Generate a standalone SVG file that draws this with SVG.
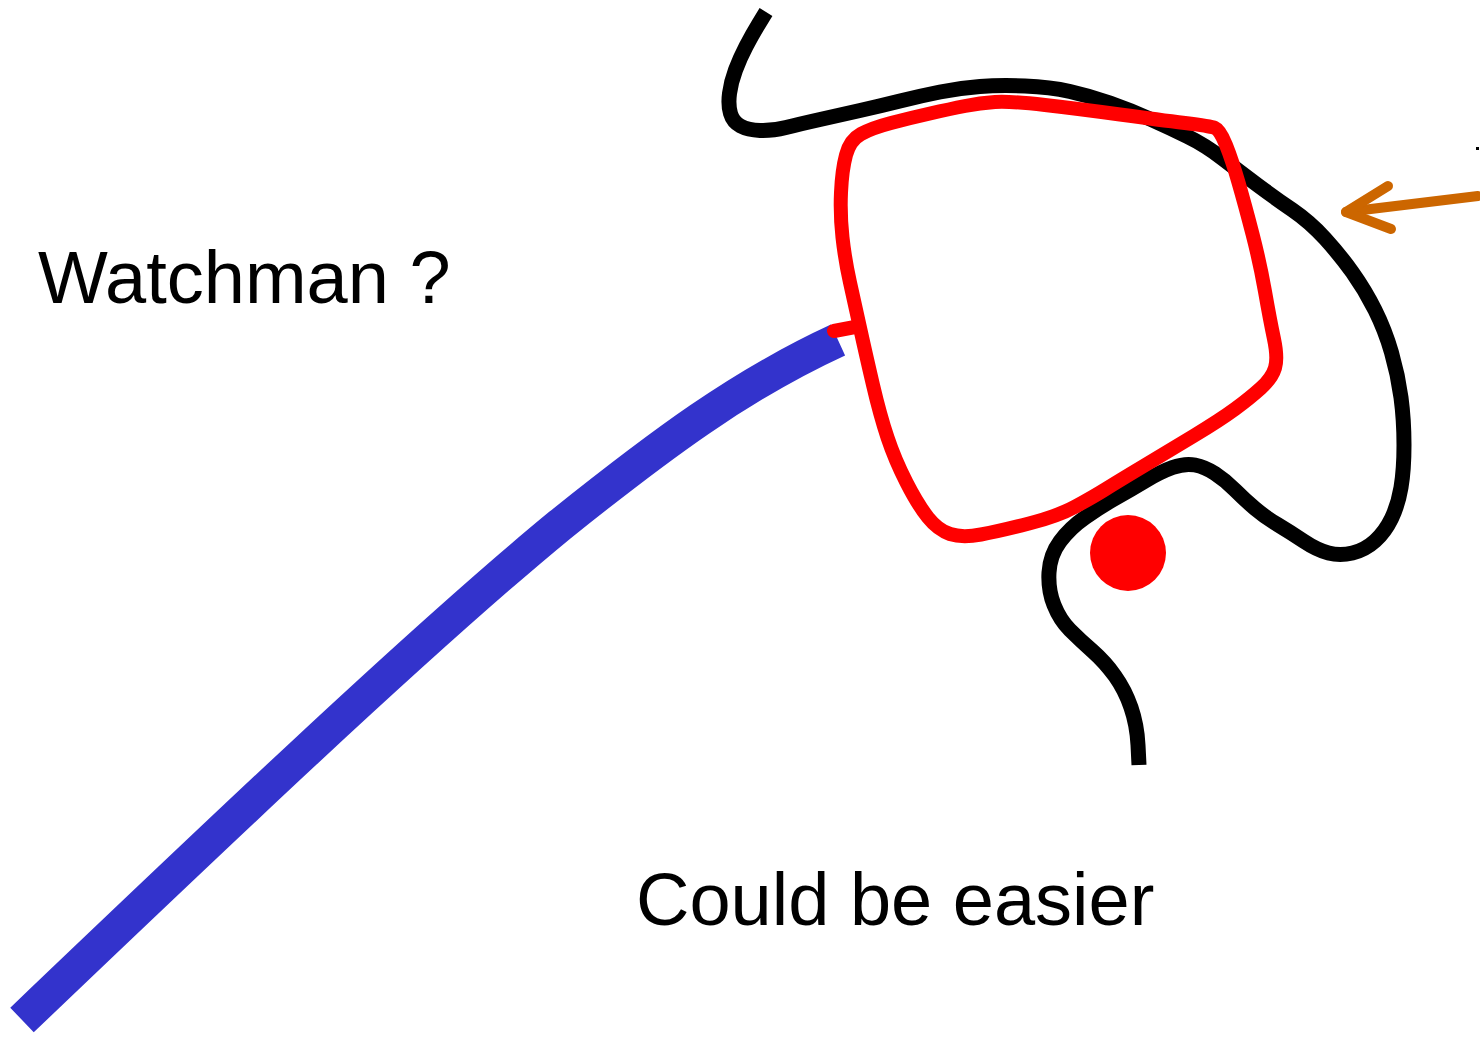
<svg xmlns="http://www.w3.org/2000/svg" width="1480" height="1038" viewBox="0 0 1480 1038">
<style>
.txt{font-family:"Liberation Sans",Arial,sans-serif;font-size:74px;fill:#000}
.blk{fill:none;stroke:#000;stroke-width:15;stroke-linejoin:round;stroke-linecap:butt}
.red{fill:none;stroke:#FF0000;stroke-width:14;stroke-linejoin:round;stroke-linecap:round}
.blue{fill:none;stroke:#3333CC;stroke-width:34;stroke-linecap:butt;stroke-linejoin:round}
.org{fill:none;stroke:#CC6600;stroke-width:10;stroke-linecap:round;stroke-linejoin:round}
</style>
<rect width="1480" height="1038" fill="#fff"/>
<g id="black-curve">
<path class="blk" d="M766,12 L759,23.5 Q752,35 746,46.5 Q740,58 735.5,70 Q731,82 729.5,93.5 Q728,105 730.5,113.5 Q733,122 740.5,126 Q748,130 760,130.5 Q772,131 786,127.5 Q800,124 820,119.5 Q840,115 860,110.5 Q880,106 900,101 Q920,96 940,92 Q960,88 980,86.5 Q1000,85 1025,86 Q1050,87 1070,91.5 Q1090,96 1110,103 Q1130,110 1150,119 Q1170,128 1187.5,136.5 Q1205,145 1222.5,158.5 Q1240,172 1257.5,185 Q1275,198 1292.5,210 Q1310,222 1325,238.5 Q1340,255 1352.5,272.5 Q1365,290 1375,310 Q1385,330 1391.5,352.5 Q1398,375 1401,397.5 Q1404,420 1404,445 Q1404,470 1401,487.5 Q1398,505 1391.5,518.5 Q1385,532 1375,541 Q1365,550 1352.5,553 Q1340,556 1328.5,553 Q1317,550 1303.5,541 Q1290,532 1277.5,524.5 Q1265,517 1255,508.5 Q1245,500 1235,490 Q1225,480 1215,473.5 Q1205,467 1195,465 Q1185,463 1172.5,467.5 Q1160,472 1145,481 Q1130,490 1115,498.5 Q1100,507 1085,517.5 Q1070,528 1060,541.5 Q1050,555 1049,572.5 Q1048,590 1054,605 Q1060,620 1070,630 Q1080,640 1092.5,651 Q1105,662 1115,676 Q1125,690 1131,707.5 Q1137,725 1138,745 L1139,765"/>
<rect x="1476" y="147" width="3" height="3" fill="#000"/>
</g>
<g id="blue-line">
<path class="blue" d="M22,1020 C200,850 420,640 560,525 C660,445 740,385 838,340"/>
</g>
<g id="red-shape">
<path class="red" d="M834,331 L855,327"/>
<path class="red" d="M1215,128 Q1220,130 1226,145 Q1232,160 1238.5,182.5 Q1245,205 1252.5,234 Q1260,263 1265,291.5 Q1270,320 1274,339 Q1278,358 1275,368 Q1272,378 1261,388 Q1250,398 1235,409 Q1220,420 1193.5,436 Q1167,452 1142,467 Q1117,482 1105,489.5 Q1093,497 1075.5,506.5 Q1058,516 1029,523.5 Q1000,531 981,534.5 Q962,538 950,534 Q938,530 928,517.5 Q918,505 906.5,482.5 Q895,460 887.5,437.5 Q880,415 873,385 Q866,355 860.5,330 Q855,305 850,282.5 Q845,260 842.5,237.5 Q840,215 841,192.5 Q842,170 846,155 Q850,140 861,134 Q872,128 891,123 Q910,118 930,113.5 Q950,109 965,106 Q980,103 995,102 Q1010,101 1045,105 Q1080,109 1120,114.5 Q1160,120 1185,123 Q1210,126 1215,128 Z"/>
<circle cx="1128" cy="553" r="38" fill="#FF0000"/>
</g>
<g id="arrow">
<path class="org" d="M1478,196 L1346,212"/>
<path class="org" d="M1388,186 L1346,212 L1391,229"/>
</g>
<g id="labels">
<text class="txt" x="38" y="303">Watchman ?</text>
<text class="txt" x="636" y="925">Could be easier</text>
</g>
</svg>
